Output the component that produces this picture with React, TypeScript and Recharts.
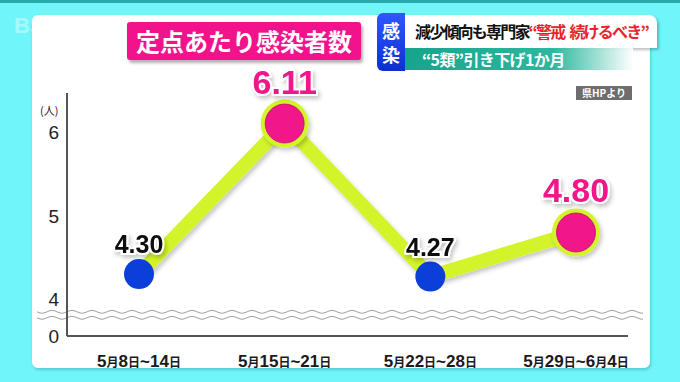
import React from "react";
import {
  LineChart,
  Line,
  XAxis,
  YAxis,
  LabelList,
  ReferenceLine,
} from "recharts";

// weekly sentinel-surveillance figures (per medical institution)
const WEEKS = ["5月8日~14日", "5月15日~21日", "5月22日~28日", "5月29日~6月4日"];
const RATES = [4.3, 6.11, 4.27, 4.8];
const HIGHLIGHT = [false, true, false, true];

// broken axis: bottom of the scale is labelled "0"
const AXIS_FLOOR = 3.555;
const AXIS_TOP = 6.477;
const Y_TICKS = [AXIS_FLOOR, 4, 5, 6];
const BREAK_AT = 3.81;

const data = WEEKS.map((week, i) => ({
  week,
  rate: RATES[i],
  hot: HIGHLIGHT[i],
}));

const NUM_FONT = '"Liberation Sans", "Noto Sans CJK JP", sans-serif';
const JP_FONT = '"Noto Sans CJK JP", sans-serif';

const LIME = "#d3f42b";
const PINK = "#f2128b";
const BLUE = "#0c3fd9";

function WeekTick(props: any) {
  const { x, y, payload } = props;
  const parts = String(payload.value).split(/(月|日)/).filter(Boolean);
  return (
    <text
      x={x}
      y={y + 23}
      textAnchor="middle"
      fontFamily={NUM_FONT}
      fontWeight={700}
      fill="#1a1a1a"
    >
      {parts.map((p: string, i: number) => (
        <tspan key={i} fontSize={p === "月" || p === "日" ? 12 : 17}>
          {p}
        </tspan>
      ))}
    </text>
  );
}

function RateDot(props: any) {
  const { cx, cy, index, payload } = props;
  if (payload.hot) {
    return (
      <g key={`d${index}`} filter="url(#soft)">
        <circle cx={cx} cy={cy} r={24} fill={LIME} />
        <circle cx={cx} cy={cy} r={19.5} fill={PINK} stroke="#c0106e" strokeWidth={0.8} />
      </g>
    );
  }
  return <circle key={`d${index}`} cx={cx} cy={cy} r={15} fill={BLUE} />;
}

function RateLabel(props: any) {
  const { x, y, value, index } = props;
  const hot = HIGHLIGHT[index];
  return (
    <text
      x={x}
      y={y - (hot ? 30 : 21)}
      textAnchor="middle"
      fontFamily={NUM_FONT}
      fontWeight={700}
      fontSize={hot ? 34 : 25}
      fill={hot ? PINK : "#111"}
      stroke="#fff"
      strokeWidth={4}
      paintOrder="stroke"
      filter="url(#soft)"
    >
      {Number(value).toFixed(2)}
    </text>
  );
}

function Wave(props: any) {
  const { x1, x2, y1 } = props;
  const from = x1 - 30;
  const to = x2 + 16;
  const make = (base: number) => {
    let d = `M${from},${base}`;
    for (let px = from; px <= to; px += 2) {
      d += ` L${px},${base + 1.4 * Math.sin(((px - from) / 20) * 2 * Math.PI)}`;
    }
    return d;
  };
  return (
    <g>
      <path d={make(y1 - 3)} fill="none" stroke="#a0a0a0" strokeWidth={1} />
      <path d={make(y1 + 3)} fill="none" stroke="#a0a0a0" strokeWidth={1} />
    </g>
  );
}

export default function App() {
  return (
    <div
      style={{
        position: "absolute",
        left: 0,
        top: 0,
        width: 680,
        height: 382,
        overflow: "hidden",
        background: "#70f6fa",
        fontFamily: JP_FONT,
      }}
    >
      <div style={{ position: "absolute", left: 0, top: 0, width: 680, height: 3, background: "#2aa7a8" }} />
      <div
        style={{
          position: "absolute",
          left: 32,
          top: 15,
          width: 618,
          height: 353,
          background: "#fff",
          borderRadius: 6,
          boxShadow: "1px 2px 3px rgba(0,80,90,0.25)",
        }}
      />
      <div
        style={{
          position: "absolute",
          left: 14,
          top: 13,
          fontFamily: NUM_FONT,
          fontWeight: 700,
          fontSize: 22,
          color: "rgba(255,255,255,0.4)",
        }}
      >
        BS
      </div>

      <div style={{ position: "absolute", left: 0, top: 0 }}>
        <LineChart
          width={680}
          height={382}
          data={data}
          margin={{ top: 93, right: 52, bottom: 16, left: 37 }}
        >
          <defs>
            <filter id="soft" x="-30%" y="-30%" width="160%" height="160%">
              <feDropShadow dx="2" dy="3" stdDeviation="2" floodColor="#000" floodOpacity="0.22" />
            </filter>
          </defs>
          <XAxis
            dataKey="week"
            height={30}
            padding={{ left: 72, right: 52 }}
            axisLine={{ stroke: "#555", strokeWidth: 2 }}
            tickLine={false}
            tick={<WeekTick />}
            interval={0}
          />
          <YAxis
            width={30}
            domain={[AXIS_FLOOR, AXIS_TOP]}
            ticks={Y_TICKS}
            allowDataOverflow
            axisLine={{ stroke: "#555", strokeWidth: 2 }}
            tickLine={false}
            tickSize={0}
            tickMargin={8}
            tickFormatter={(v: number) => (v < 4 ? "0" : String(v))}
            tick={{ fill: "#222", fontSize: 19, fontFamily: NUM_FONT }}
            label={{
              value: "(人)",
              position: "insideTopLeft",
              dx: -2,
              dy: 9,
              fontSize: 11,
              fill: "#222",
              fontFamily: JP_FONT,
            }}
          />
          <ReferenceLine y={BREAK_AT} shape={<Wave />} ifOverflow="visible" />
          <Line
            dataKey="rate"
            type="linear"
            stroke={LIME}
            strokeWidth={14}
            strokeLinejoin="round"
            filter="url(#soft)"
            dot={<RateDot />}
            activeDot={false}
            isAnimationActive={false}
          >
            <LabelList dataKey="rate" content={<RateLabel />} />
          </Line>
        </LineChart>
      </div>

      {/* title */}
      <div
        style={{
          position: "absolute",
          left: 127,
          top: 22,
          width: 234,
          height: 38,
          background: PINK,
          borderRadius: 3,
          boxShadow: "2px 3px 3px rgba(0,0,0,0.3)",
          color: "#fff",
          fontWeight: 700,
          fontSize: 24,
          lineHeight: "38px",
          textAlign: "center",
        }}
      >
        定点あたり感染者数
      </div>

      {/* news strap */}
      <div
        style={{
          position: "absolute",
          left: 405,
          top: 15,
          width: 252,
          height: 33,
          background: "#fff",
          borderTopRightRadius: 8,
          boxShadow: "2px 2px 3px rgba(0,0,0,0.25)",
          fontWeight: 700,
          fontSize: 16,
          lineHeight: "33px",
          whiteSpace: "nowrap",
          paddingLeft: 10,
          boxSizing: "border-box",
          letterSpacing: -1.8,
        }}
      >
        <span style={{ color: "#111" }}>減少傾向も専門家</span>
        <span style={{ color: "#e8232b" }}>
          “警戒<span style={{ display: "inline-block", width: 5 }} />続けるべき”
        </span>
      </div>
      <div
        style={{
          position: "absolute",
          left: 405,
          top: 48,
          width: 228,
          height: 22,
          background: "linear-gradient(90deg, #16a48d 0%, #2cb89e 65%, rgba(255,255,255,0.9) 100%)",
          color: "#fff",
          fontWeight: 700,
          fontSize: 16,
          lineHeight: "22px",
          paddingLeft: 17,
          boxSizing: "border-box",
          whiteSpace: "nowrap",
          letterSpacing: -0.6,
        }}
      >
        “5類”引き下げ1か月
      </div>
      <div
        style={{
          position: "absolute",
          left: 377,
          top: 13,
          width: 28,
          height: 58,
          background: "linear-gradient(180deg, #3057ff, #0b2fd2)",
          borderRadius: "6px 0 0 6px",
          color: "#fff",
          fontWeight: 700,
          fontSize: 18,
          lineHeight: "24px",
          textAlign: "center",
          paddingTop: 5,
          boxSizing: "border-box",
        }}
      >
        感<br />染
      </div>
      <div
        style={{
          position: "absolute",
          left: 576,
          top: 86,
          width: 56,
          height: 14,
          background: "#6d6d6d",
          color: "#fff",
          fontWeight: 700,
          fontSize: 10,
          lineHeight: "14px",
          textAlign: "center",
        }}
      >
        県HPより
      </div>
    </div>
  );
}
